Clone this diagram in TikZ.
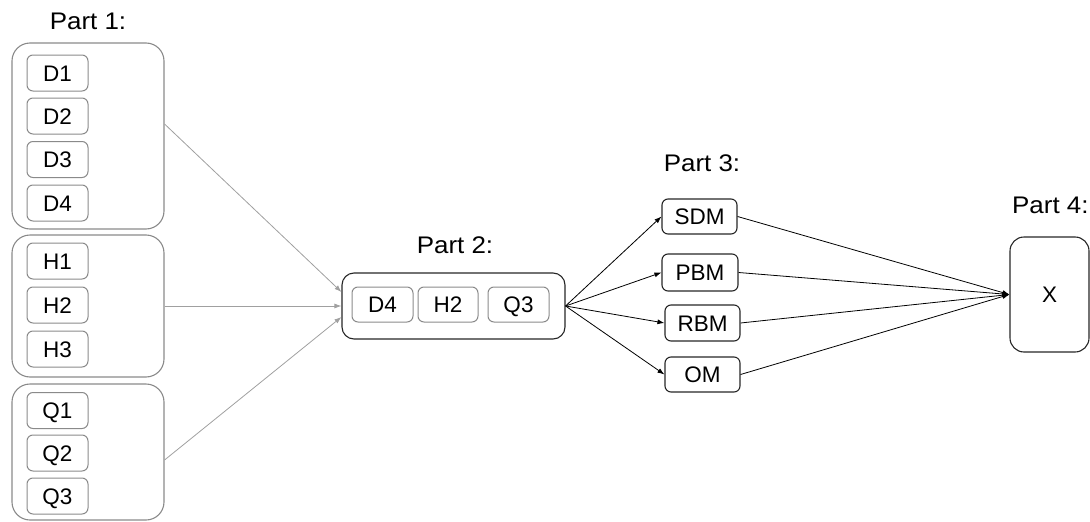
\documentclass[tikz,border=0pt]{standalone}
\usepackage{fontspec}
\setmainfont{Liberation Sans}
\newfontfamily\lblfont{Liberation Sans}[FakeStretch=1.08]
\usetikzlibrary{arrows.meta}
\definecolor{lgray}{HTML}{8A8A8A}
\definecolor{lline}{HTML}{A0A0A0}
\definecolor{dline}{HTML}{404040}
\tikzset{
  base/.style={inner sep=0pt, font=\fontsize{22.5}{26}\selectfont, text height=16.1pt, text depth=0pt},
  group/.style={base, draw=lgray, line width=1.1pt, rounded corners=18pt, minimum width=152pt},
  item/.style={base, draw=lgray, line width=1pt, rounded corners=6pt, minimum width=61pt, minimum height=36pt},
  blk/.style={base, draw=black!85, line width=1.1pt, rounded corners=6pt, minimum height=36pt, minimum width=75pt},
  lbl/.style={inner sep=0pt, font=\lblfont\fontsize{24}{28}\selectfont, text height=17.2pt, text depth=0pt},
  garrow/.style={draw=lline, line width=0.8pt, -{Latex[length=7pt,width=5pt]}, lline},
  darrow/.style={draw=dline, line width=0.8pt, -{Latex[length=7pt,width=5pt]}, black}
}
\begin{document}
\begin{tikzpicture}[x=1pt,y=-1pt]
\useasboundingbox (0,0) rectangle (1090,522);
% Part 1
\node[lbl] (l1) at (88,21) {Part 1:};
\node[group, minimum height=186pt] (gD) at (88,136) {};
\node[group, minimum height=142pt] (gH) at (88,306) {};
\node[group, minimum height=136pt] (gQ) at (88,452) {};
\node[item] (d1) at (57.5,73) {D1};
\node[item] (d2) at (57.5,116) {D2};
\node[item] (d3) at (57.5,159.5) {D3};
\node[item] (d4) at (57.5,203) {D4};
\node[item] (h1) at (57.5,261) {H1};
\node[item] (h2) at (57.5,305) {H2};
\node[item] (h3) at (57.5,349) {H3};
\node[item] (q1) at (57.5,410.5) {Q1};
\node[item] (q2) at (57.5,453) {Q2};
\node[item] (q3) at (57.5,496) {Q3};
% Part 2
\node[lbl] (l2) at (455,245) {Part 2:};
\node[base, draw=black!85, line width=1.1pt, rounded corners=12pt, minimum width=223pt, minimum height=66pt] (p2) at (453.5,306) {};
\node[item, minimum height=35pt] (p2d4) at (382.5,304.5) {D4};
\node[item, minimum width=60pt, minimum height=35pt] (p2h2) at (448,304.5) {H2};
\node[item, minimum height=35pt] (p2q3) at (518.5,304.5) {Q3};
% Part 3
\node[lbl] (l3) at (702,163) {Part 3:};
\node[blk, minimum height=35pt] (sdm) at (699.5,216.5) {SDM};
\node[blk, minimum width=76pt, minimum height=37pt] (pbm) at (700,272.5) {PBM};
\node[blk] (rbm) at (702.5,323) {RBM};
\node[blk, minimum height=35pt] (om) at (702.5,374.5) {OM};
% Part 4
\node[lbl, anchor=west] (l4) at (1012,205) {Part 4:};
\node[base, draw=black!85, line width=1.1pt, rounded corners=14pt, minimum width=79pt, minimum height=115pt] (x) at (1049.5,294.5) {X};
% connectors
\draw[garrow] ([yshift=12pt]gD.east) -- ([yshift=14pt]p2.west);
\draw[garrow] (gH.east) -- (p2.west);
\draw[garrow] ([yshift=-8pt]gQ.east) -- ([yshift=-11pt]p2.west);
\draw[darrow] (p2.east) -- (sdm.west);
\draw[darrow] (p2.east) -- (pbm.west);
\draw[darrow] (p2.east) -- (rbm.west);
\draw[darrow] (p2.east) -- (om.west);
\draw[darrow] (sdm.east) -- (x.west);
\draw[darrow] (pbm.east) -- (x.west);
\draw[darrow] (rbm.east) -- (x.west);
\draw[darrow] (om.east) -- (x.west);
\end{tikzpicture}
\end{document}
